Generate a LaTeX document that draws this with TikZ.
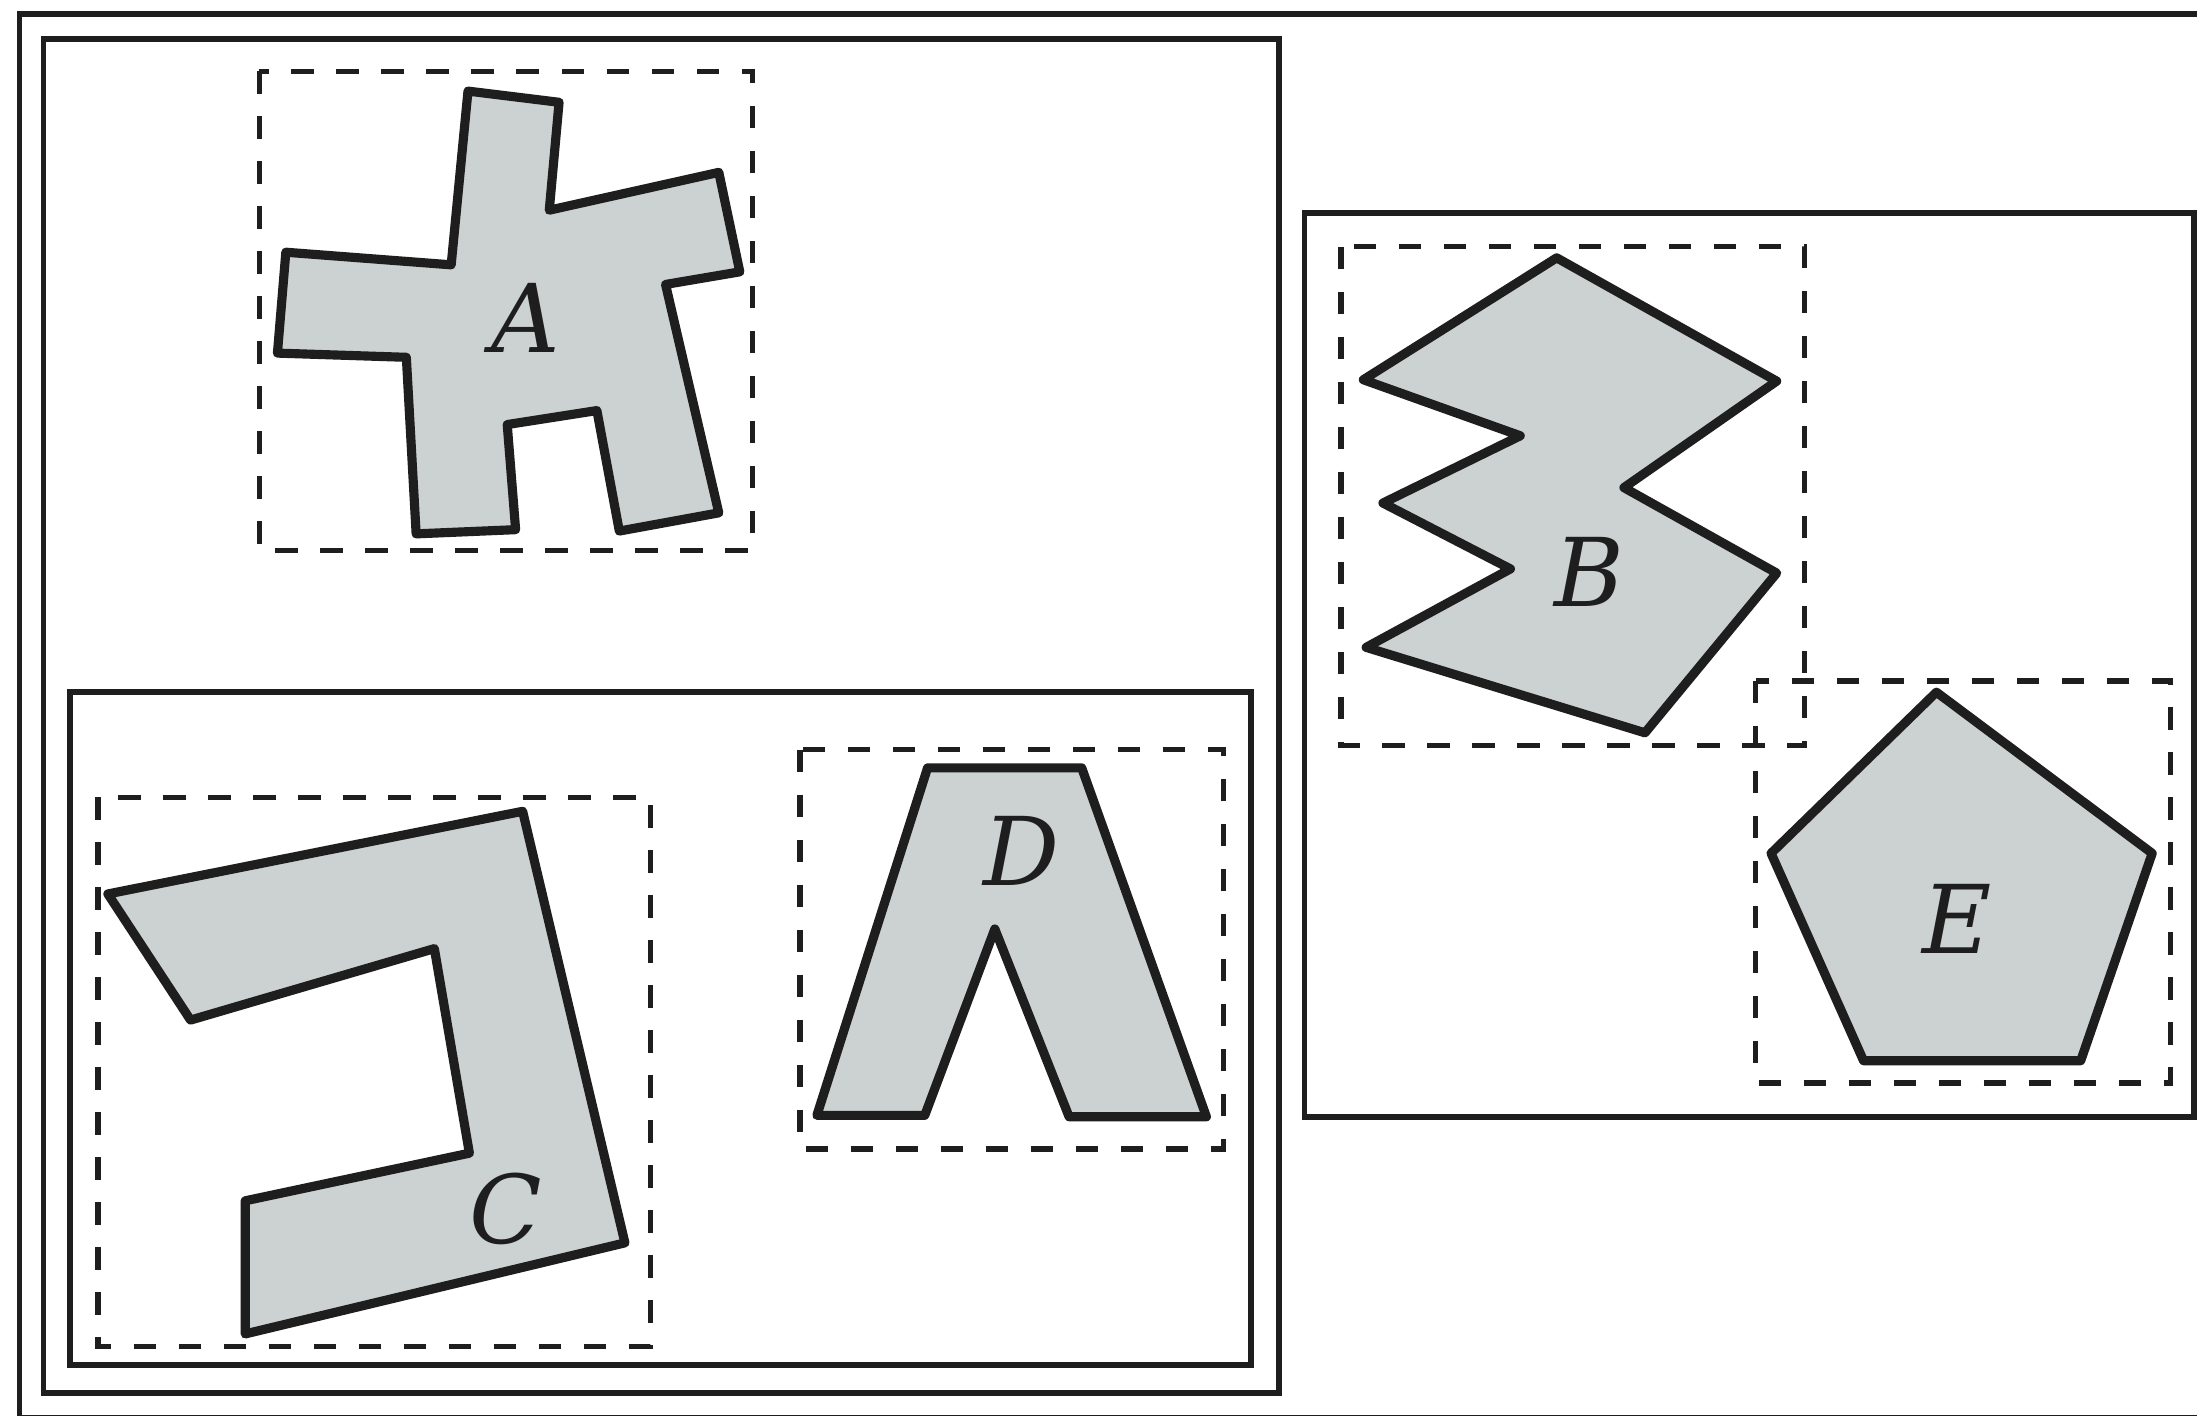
\documentclass[tikz,border=0pt]{standalone}
\usepackage{fontspec}
\usepackage{tikz}
\newfontfamily\labelfont{DejaVu Serif}
\definecolor{shapegray}{RGB}{204,209,209}
\definecolor{inkdark}{RGB}{30,30,30}
\tikzset{
  frame/.style={draw=inkdark, line width=1.6pt},
  bbox/.style={draw=inkdark, line width=1.5pt, dash pattern=on 6.4pt off 6.4pt},
  polyshape/.style={draw=inkdark, fill=shapegray, line width=2.6pt, line join=round},
  shapelabel/.style={font=\labelfont\itshape\fontsize{27}{30}\selectfont, text=inkdark, inner sep=0pt}
}

\begin{document}
\begin{tikzpicture}[x=0.014011cm, y=-0.014011cm]

    % Lienzo
    \useasboundingbox[fill=white] (0,0) rectangle (1568,1010);

    % 1. Marcos
    \draw[frame] (14,10) rectangle (1590,1012);
    \draw[frame] (31,28) rectangle (913,994);
    \draw[frame] (50,494) rectangle (893,974);
    \draw[frame] (931,152) rectangle (1566,797);

    % 2. Cajas envolventes (punteadas)
    \foreach \xa/\ya/\xb/\yb in {
        185/51/537/393,     % A
        957/176/1288/532,   % B
        70/569/464/961,     % C
        571/535/873/820,    % D
        1253/486/1549/773   % E
    } {
        \draw[bbox] (\xa,\ya) rectangle (\xb,\yb);
    }

    % 3. Poligonos
    % A
    \draw[polyshape] (334,65) -- (399,73) -- (392,150) -- (513,123) -- (528,194)
        -- (475,203) -- (513,366) -- (442,379) -- (426,293) -- (362,303)
        -- (368,378) -- (297,381) -- (290,255) -- (198,252) -- (204,180)
        -- (322,189) -- cycle;
    \node[shapelabel] (labA) at (375,227) {A};

    % B
    \draw[polyshape] (1111,184) -- (1268,272) -- (1159,348) -- (1268,409)
        -- (1174,523) -- (975,462) -- (1078,406) -- (987,359) -- (1085,311)
        -- (973,271) -- cycle;
    \node[shapelabel] (labB) at (1134,408) {B};

    % C
    \draw[polyshape] (77,638) -- (373,579) -- (446,887) -- (175,952)
        -- (175,857) -- (335,823) -- (310,677) -- (136,728) -- cycle;
    \node[shapelabel] (labC) at (361,863) {C};

    % D
    \draw[polyshape] (662,548) -- (772,548) -- (861,797) -- (763,797)
        -- (710,663) -- (660,796) -- (583,796) -- cycle;
    \node[shapelabel] (labD) at (729,607) {D};

    % E
    \draw[polyshape] (1382,494) -- (1536,609) -- (1485,757) -- (1330,757)
        -- (1264,609) -- cycle;
    \node[shapelabel] (labE) at (1397,656) {E};

\end{tikzpicture}
\end{document}
